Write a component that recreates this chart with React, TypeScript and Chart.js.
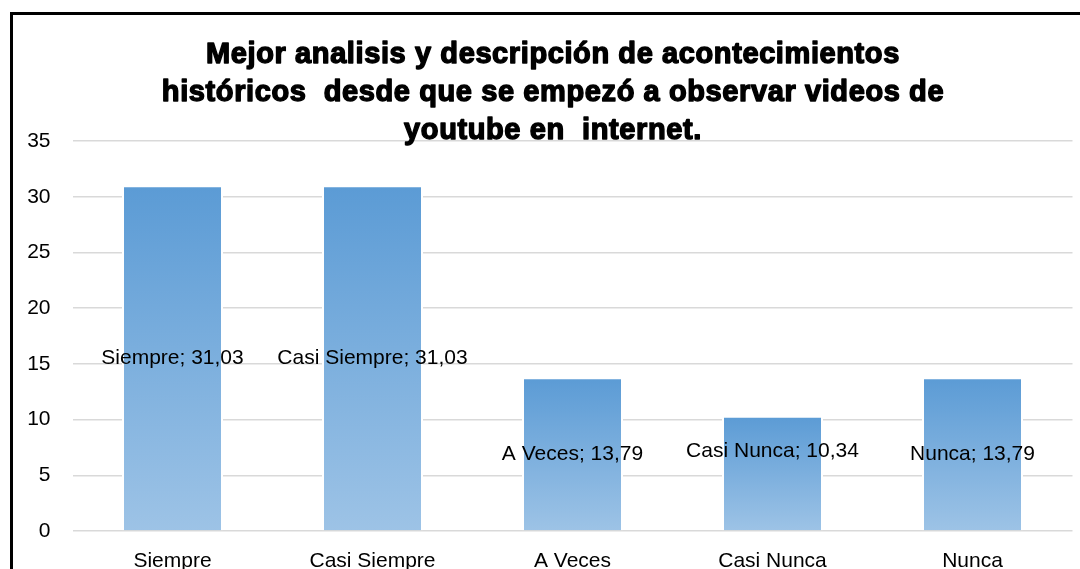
import React, { useEffect, useRef } from "react";
import { Chart, registerables } from "chart.js";

Chart.register(...registerables);

const categories = ["Siempre", "Casi Siempre", "A Veces", "Casi Nunca", "Nunca"];
const values = [31.03, 31.03, 13.79, 10.34, 13.79];
const titleLines = [
  "Mejor analisis y descripción de acontecimientos",
  "históricos  desde que se empezó a observar videos de",
  "youtube en  internet.",
];
const yMin = 0;
const yMax = 35;
const yStep = 5;

// styling
const labelNudgePx = [0, 0, 0, -22, 0];
const FONT = "'Liberation Sans', Arial, sans-serif";

const titlePlugin = {
  id: "customTitle",
  afterDraw(chart: any) {
    const ctx = chart.ctx;
    ctx.save();
    ctx.font = `bold 29px ${FONT}`;
    try {
      (ctx as any).letterSpacing = "0.6px";
    } catch (e) {}
    ctx.fillStyle = "#000";
    ctx.strokeStyle = "#000";
    ctx.lineWidth = 1.4;
    ctx.lineJoin = "round";
    ctx.textAlign = "center";
    ctx.textBaseline = "alphabetic";
    const cx = chart.width / 2;
    const baselines = [48, 86, 124];
    titleLines.forEach((t, i) => {
      ctx.fillText(t, cx, baselines[i]);
      ctx.strokeText(t, cx, baselines[i]);
    });
    ctx.restore();
  },
};

const labelPlugin = {
  id: "barLabels",
  afterDatasetsDraw(chart: any) {
    const ctx = chart.ctx;
    const meta = chart.getDatasetMeta(0);
    ctx.save();
    ctx.font = `21px ${FONT}`;
    ctx.fillStyle = "#000";
    ctx.textAlign = "center";
    ctx.textBaseline = "middle";
    meta.data.forEach((el: any, i: number) => {
      const txt = `${categories[i]}; ${values[i].toFixed(2).replace(".", ",")}`;
      const y = (el.y + el.base) / 2 + labelNudgePx[i];
      ctx.fillText(txt, el.x, y);
    });
    ctx.restore();
  },
};

export default function App() {
  const ref = useRef<HTMLCanvasElement>(null);
  useEffect(() => {
    if (!ref.current) return;
    const chart = new Chart(ref.current, {
      type: "bar",
      data: {
        labels: categories,
        datasets: [
          {
            data: values,
            backgroundColor: (c: any) => {
              const ch = c.chart;
              if (!ch.chartArea || c.raw === undefined) return "#5b9bd5";
              const top = ch.scales.y.getPixelForValue(c.raw);
              const base = ch.scales.y.getPixelForValue(0);
              const g = ch.ctx.createLinearGradient(0, top, 0, base);
              g.addColorStop(0, "#5b9bd5");
              g.addColorStop(1, "#9dc3e6");
              return g;
            },
            borderColor: "#ffffff",
            borderWidth: 2,
            borderSkipped: "start",
            barPercentage: 0.505,
            categoryPercentage: 1,
          },
        ],
      },
      options: {
        animation: false,
        responsive: false,
        devicePixelRatio: 1,
        layout: { padding: { top: 126, left: 0, right: 20.5, bottom: 34 } },
        plugins: {
          legend: { display: false },
          title: { display: false },
          tooltip: { enabled: false },
        },
        scales: {
          x: {
            grid: { display: false, drawTicks: false },
            border: { display: false },
            ticks: { font: { family: FONT, size: 21 }, color: "#000", padding: 18 },
            afterFit: (s: any) => {
              s.height = 50;
            },
          },
          y: {
            min: yMin,
            max: yMax,
            grid: { color: "#d9d9d9", lineWidth: 1.5, drawTicks: false },
            border: { display: false },
            ticks: { stepSize: yStep, font: { family: FONT, size: 21 }, color: "#000", padding: 22 },
            afterFit: (s: any) => {
              s.width = 59.5;
            },
          },
        },
      },
      plugins: [titlePlugin, labelPlugin],
    });
    return () => chart.destroy();
  }, []);

  return (
    <div style={{ position: "absolute", left: 0, top: 0, width: 1080, height: 569, overflow: "hidden", background: "#fff" }}>
      <div
        style={{
          position: "absolute",
          left: 10,
          top: 12,
          width: 1100,
          height: 620,
          border: "3px solid #000",
          boxSizing: "border-box",
        }}
      />
      <canvas
        ref={ref}
        width={1080}
        height={600}
        style={{ position: "absolute", left: 13, top: 15, width: 1080, height: 600 }}
      />
    </div>
  );
}
